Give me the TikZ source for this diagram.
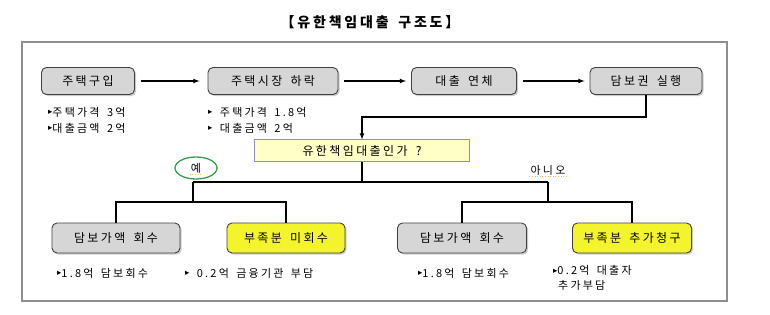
\documentclass[tikz,border=0pt]{standalone}
\usepackage{fontspec}
\setmainfont[LetterSpace=20, WordSpace=1.6]{Noto Sans CJK KR}
\newfontfamily\symfont{DejaVu Sans}
\usetikzlibrary{shadows,positioning}
\definecolor{boxgray}{HTML}{D6D6D6}
\definecolor{lossyellow}{HTML}{F4F42C}
\definecolor{askfill}{HTML}{FFFFC6}
\definecolor{askline}{HTML}{8C8CC8}
\definecolor{framegray}{HTML}{8E8E8E}
\definecolor{ringgreen}{HTML}{3A9A4E}
\tikzset{>=latex}
\tikzset{
  stepbox/.style={draw=black!75, line width=0.9pt, rounded corners=5pt,
    fill=boxgray, minimum height=27pt, inner sep=2pt,
    font=\fontsize{12}{14}\selectfont,
    drop shadow={shadow xshift=1.6pt, shadow yshift=-1.6pt, fill=black!40}},
  lossbox/.style={stepbox, fill=lossyellow, minimum height=30pt},
  valbox/.style={stepbox, minimum height=30pt},
  note/.style={anchor=west, inner sep=0pt, font=\fontsize{11}{15}\selectfont},
  link/.style={line width=1.1pt},
  squiggle/.style={draw=orange!60, dotted, line width=0.6pt},
}
\newcommand{\bul}{\raisebox{1.2pt}{\symfont\fontsize{8.5}{9}\selectfont ▸}}
\begin{document}
\begin{tikzpicture}[x=1pt, y=-1pt]
  \useasboundingbox (0,0) rectangle (770,315);
  % title and frame
  \node[font=\bfseries\fontsize{14}{16}\selectfont] (title) at (370,22) {【유한책임대출 구조도】};
  \draw[framegray, line width=1.2pt] (22,42) rectangle (727,301);
  % top row
  \node[stepbox, minimum width=93pt] (buy) at (88,81) {주택구입};
  \node[stepbox, minimum width=130pt] (drop) at (273,81) {주택시장 하락};
  \node[stepbox, minimum width=105pt] (overdue) at (464,81) {대출 연체};
  \node[stepbox, minimum width=112pt] (enforce) at (646,81) {담보권 실행};
  \draw[link, ->, shorten <=6pt, shorten >=8pt] (buy) -- (drop);
  \draw[link, ->, shorten <=6pt, shorten >=5pt] (drop) -- (overdue);
  \draw[link, ->, shorten <=6pt, shorten >=5pt] (overdue) -- (enforce);
  \node[note] (buynote1) at (48,112) {\bul 주택가격 3억};
  \node[note] (buynote2) at (48,128) {\bul 대출금액 2억};
  \node[note] (dropnote1) at (208,112) {\bul\ 주택가격 1.8억};
  \node[note] (dropnote2) at (208,128) {\bul\ 대출금액 2억};
  % question
  \node[draw=askline, fill=askfill, line width=1pt, minimum width=215pt,
    minimum height=22pt, inner sep=1pt, font=\fontsize{12}{14}\selectfont]
    (ask) at (362,151) {유한책임대출인가 ?};
  \draw[link, ->] (enforce.south) -- (enforce.south |- 0,117) -| (ask.north);
  % bottom row
  \node[valbox, minimum width=128pt] (yesval) at (116,238) {담보가액 회수};
  \node[lossbox, minimum width=118pt] (yesloss) at (286,238) {부족분 미회수};
  \node[valbox, minimum width=129pt] (noval) at (462,238) {담보가액 회수};
  \node[lossbox, minimum width=119pt] (noclaim) at (632,238) {부족분 추가청구};
  \coordinate (yesfork) at (193,182);
  \coordinate (nofork) at (548,182);
  \draw[link] (ask.south) -- (ask.south |- yesfork);
  \draw[link] (yesfork) -- (nofork);
  \draw[link] (yesfork) -- (yesfork |- 0,202);
  \draw[link] (nofork) -- (nofork |- 0,202);
  \draw[link] (yesval.north) -- (yesval.north |- 0,202) -- (yesloss.north |- 0,202) -- (yesloss.north);
  \draw[link] (noval.north) -- (noval.north |- 0,202) -- (noclaim.north |- 0,202) -- (noclaim.north);
  % branch labels
  \node[font=\fontsize{11}{13}\selectfont, inner sep=1pt] (yes) at (196,168) {예};
  \draw[squiggle] (yes.south west) -- (yes.south east);
  \draw[ringgreen, line width=1.3pt] (196,168) ellipse (21 and 11);
  \node[font=\fontsize{11}{13}\selectfont, inner sep=1pt] (no) at (548,170) {아니오};
  \draw[squiggle] (no.south west) -- (no.south east);
  % bottom notes
  \node[note] (yesvalnote) at (57,273) {\bul 1.8억 담보회수};
  \node[note] (yeslossnote) at (185,273) {\bul\ 0.2억 금융기관 부담};
  \node[note] (novalnote) at (418,273) {\bul 1.8억 담보회수};
  \node[note, align=left, anchor=north west] (noclaimnote) at (553,265) {\bul 0.2억 대출자\\\hspace{5pt}추가부담};
\end{tikzpicture}
\end{document}
